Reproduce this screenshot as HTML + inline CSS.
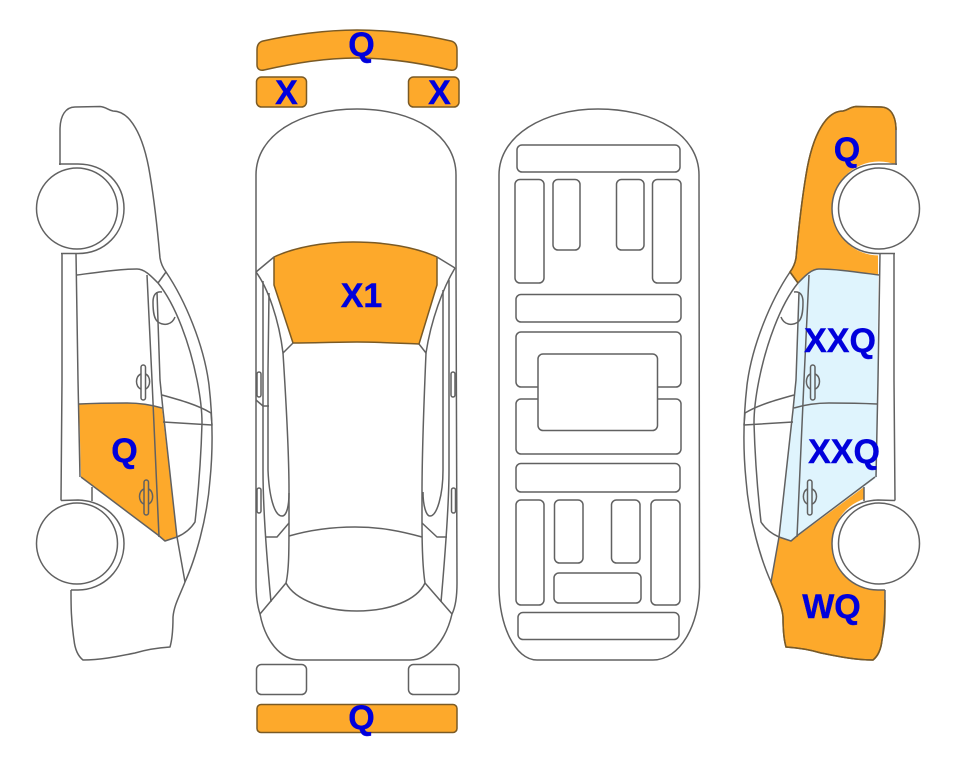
<!DOCTYPE html>
<html>
<head>
<meta charset="utf-8">
<style>
html,body{margin:0;padding:0;background:#fff;width:963px;height:768px;overflow:hidden}
svg{display:block}
.l{fill:none;stroke:#616161;stroke-width:1.5;stroke-linejoin:round}
.w{fill:#fff;stroke:#616161;stroke-width:1.5}
.o{fill:#fda92b;stroke:#7a5a25;stroke-width:1.5;stroke-linejoin:round}
.nf{fill:#fda92b;stroke:none}
.b{fill:#dff4fd;stroke:none}
text{font-family:"Liberation Sans",sans-serif;font-weight:bold;font-size:34px;fill:#0000dc;stroke:#0000dc;stroke-width:.4;text-anchor:middle}
</style>
</head>
<body>
<svg width="963" height="768" viewBox="0 0 963 768" xmlns="http://www.w3.org/2000/svg">
<defs>
<g id="side">
  <!-- rear & front wheel arches: white discs -->
  <circle cx="77" cy="208.5" r="47" fill="#fff"/>
  <circle cx="77" cy="543.5" r="47" fill="#fff"/>
  <!-- outline -->
  <path class="l" d="M60,165 L60,130 C60,115 66,107 75,107 L100,106.5 C106,107 108,110 113,111 C118,111 124,113 130,120 C140,132 146,150 150,175 C155,205 158,235 160,258 C161,264 163,268 166,272 C185,300 204,345 209,385 C213,420 213,450 210,480 C207,520 195,560 185,582 C180,595 174,605 173,617 C173,630 172,640 170,647 C155,648 145,650 135,653 C115,657 100,660 83,660 C78,656 75,650 74,640 C71,620 71,605 71,590"/>
  <!-- arches -->
  <path class="l" d="M59,164 L78,164 C105,164 124,184 124,208.5 C124,233 105,253.5 78,253.5 L61,253.5"/>
  <path class="l" d="M61,500.5 L78,500 C105,501 124,520 124,543.5 C124,570 103,590 78,590 L71,590"/>
  <!-- pillars -->
  <path class="l" d="M62,253.5 L62,380 L61,500.5"/>
  <path class="l" d="M76,253.5 L78,380 L80,477"/>
  <path class="l" d="M92,487 L92,501"/>
  <path class="l" d="M77,275 C100,272 120,269 137,269 C145,269 152,277 158,283 C176,305 190,345 197,380 C200,395 202,410 202,423 C201,460 198,495 195,522 C190,530 184,534 177,537"/>
  <path class="l" d="M166,272 L158,283"/>
  <path class="l" d="M147,275 L152,380 L159,537"/>
  <path class="l" d="M157,292 L160,380 L163,410 L177,537 L185,582"/>
  <path class="l" d="M79,404 C100,403 115,403 127,403 C140,403 152,405 162,408"/>
  <path class="l" d="M81,477 L158,535 L165,541 L177,537"/>
  <!-- bar -->
  <path class="l" d="M162,395 C180,400 198,405 211,413 L212,425 L163,422"/>
  <!-- mirror -->
  <path class="l" d="M162,292 C156,291 153,295 153,302 C153,312 154,319 158,322 C164,326 172,325 175,317"/>
  <!-- handles -->
  <g class="l">
    <path d="M141,374 C135,376 135,387 141,389 M145.5,374 C151,376 151,387 145.5,389"/>
    <rect x="141" y="365" width="4.5" height="35" rx="2.2"/>
    <path d="M144,489 C138,491 138,502 144,504 M148.5,489 C154,491 154,502 148.5,504"/>
    <rect x="144" y="480" width="4.5" height="35" rx="2.2"/>
  </g>
  <!-- wheels -->
  <circle class="w" cx="77" cy="208.5" r="40.5"/>
  <circle class="w" cx="77" cy="543.5" r="40.5"/>
</g>
</defs>

<!-- LEFT CAR fill -->
<path class="nf" d="M79,404 C100,403 115,403 127,403 C140,403 152,405 162,408 L177,537 L165,541 L158,535 L81,477 Z"/>
<use href="#side"/>

<!-- RIGHT CAR -->
<g transform="translate(956,0) scale(-1,1)">
  <path class="nf" d="M60,165 L60,130 C60,115 66,107 75,107 L100,106.5 C106,107 108,110 113,111 C118,111 124,113 130,120 C140,132 146,150 150,175 C155,205 158,235 160,258 C161,264 163,268 166,272 L158,283 C152,277 145,269 137,269 C120,269 100,272 78,275 L78,250 L60,250 Z"/>
  <path class="b" d="M158,283 C152,277 145,269 137,269 C120,269 100,272 78,275 L79,477 L92,487 L158,535 L165,541 L177,537 L163,410 L160,380 L157,290 Z"/>
  <path class="nf" d="M92,487 L92,505 L77,543 L71,590 C71,605 71,620 74,640 C75,650 78,656 83,660 C100,660 115,657 135,653 C145,650 155,648 170,647 C172,640 173,630 173,617 C174,605 180,595 185,582 L177,537 L165,541 Z"/>
  <use href="#side"/>
  <path fill="none" stroke="#7a5a25" stroke-width="1.5" d="M60,130 C60,115 66,107 75,107 L100,106.5 C106,107 108,110 113,111 C118,111 124,113 130,120 C140,132 146,150 150,175 C155,205 158,235 160,258 C161,264 163,268 166,272 L158,283"/>
  <path fill="none" stroke="#7a5a25" stroke-width="1.5" d="M71,600 C71,620 71,625 74,640 C75,650 78,656 83,660 C100,660 115,657 135,653 C145,650 155,648 170,647 C172,640 173,630 173,617 C174,605 180,595 185,582"/>
</g>

<!-- TOP VIEW -->
<path class="o" d="M257,50 C257,45 259,42 263,41 C290,35 325,30 357,30 C390,30 425,35 451,41 C455,42 457,45 457,50 L457,65 C457,69 454,71 450,70 C420,63 390,58 357,58 C325,58 295,63 264,70 C260,71 257,69 257,65 Z"/>
<rect class="o" x="256.5" y="77" width="50" height="30" rx="5"/>
<rect class="o" x="408.5" y="77" width="50.5" height="30" rx="5"/>
<path class="l" d="M256,272 L256,175 C256,135 300,109 357,109 C414,109 456,135 456,175 L456,268 L457,583 C457,600 455,608 452,614 C446,640 430,660 410,660 L300,660 C280,660 265,640 260,614 C257,605 256,595 256,583 L256,272"/>
<path class="o" d="M274,257 C295,247 325,242 353,242 C385,242 415,247 437,257 L437,285 L419,344 C395,343 375,342 357,342 C335,342 315,343 293,343 L274,285 Z"/>
<path class="l" d="M256,272 L274,257 M455,268 L437,257"/>
<path class="l" d="M256,272 C268,288 279,320 283,353 L293,343"/>
<path class="l" d="M455,268 C443,288 431,320 426,353 L419,344"/>
<path class="l" d="M283,353 C286,400 289,450 289,490 L289,523 C289,550 289,570 286,583"/>
<path class="l" d="M426,353 C424,400 422,450 422,493 L422,523 C422,550 423,570 425,583"/>
<path class="l" d="M263,281 L263,470 C263,500 265,540 271,602"/>
<path class="l" d="M449,280 L449,470 C449,500 446,545 441,602"/>
<path class="l" d="M269,293 L268,370 L268,470 C269,495 274,516 282,516 C287,516 289,505 289,493"/>
<path class="l" d="M443,290 L443,470 C443,495 437,516 430,516 C426,516 423,505 423,492"/>
<path class="l" d="M256,400 L263,406 L269,406"/>
<path class="l" d="M266,537 L277,537 L289,523"/>
<path class="l" d="M447,537 L437,537 L422,523"/>
<path class="l" d="M289,536 C310,530 330,527 355,527 C380,527 400,531 422,537"/>
<path class="l" d="M286,583 C295,600 325,611 357,611 C390,611 417,600 425,583"/>
<path class="l" d="M286,583 L260,614 M425,583 L452,614"/>
<rect class="l" x="257" y="372" width="4" height="25" rx="2"/>
<rect class="l" x="257" y="488" width="4" height="25" rx="2"/>
<rect class="l" x="451" y="372" width="4" height="25" rx="2"/>
<rect class="l" x="451.5" y="488" width="4" height="25" rx="2"/>
<rect class="l" x="256.5" y="664.5" width="50" height="30" rx="5"/>
<rect class="l" x="408.5" y="664.5" width="50.5" height="30" rx="5"/>
<rect class="o" x="257" y="704.5" width="200" height="28" rx="4"/>

<!-- UNDERBODY -->
<path class="l" d="M499,175 C499,135 545,109 598,109 C655,109 699,135 699,175 L699.5,587 C699,625 680,660 653,660 L537,660 C515,660 499,625 499,587 Z"/>
<g class="l">
  <rect x="517" y="145" width="163" height="27" rx="5"/>
  <rect x="515" y="179.5" width="29" height="103.5" rx="5"/>
  <rect x="553" y="179.5" width="27" height="70.5" rx="5"/>
  <rect x="616.5" y="179.5" width="27.5" height="70.5" rx="5"/>
  <rect x="652.5" y="179.5" width="28.5" height="103.5" rx="5"/>
  <rect x="516" y="294.5" width="165" height="27.5" rx="5"/>
  <rect x="516" y="332" width="165" height="55" rx="5"/>
  <rect x="516" y="399" width="165" height="55" rx="5"/>
  <rect x="538" y="354" width="119.5" height="76.5" rx="5" style="fill:#fff"/>
  <rect x="516" y="463.5" width="164" height="28.5" rx="5"/>
  <rect x="516" y="500" width="28" height="105" rx="5"/>
  <rect x="554.5" y="500" width="28.5" height="63" rx="5"/>
  <rect x="611.5" y="500" width="28.5" height="63" rx="5"/>
  <rect x="651" y="500" width="29" height="105" rx="5"/>
  <rect x="554" y="573" width="87" height="30" rx="5"/>
  <rect x="518" y="612.5" width="161" height="27" rx="5"/>
</g>

<!-- LABELS -->
<text x="361.5" y="56">Q</text>
<text x="286.5" y="104">X</text>
<text x="439.5" y="104">X</text>
<text x="361.5" y="307">X1</text>
<text x="361.5" y="729">Q</text>
<text x="124.5" y="462">Q</text>
<text x="847" y="161">Q</text>
<text x="840" y="352">XXQ</text>
<text x="844" y="463">XXQ</text>
<text x="831.5" y="618">WQ</text>
</svg>
</body>
</html>
